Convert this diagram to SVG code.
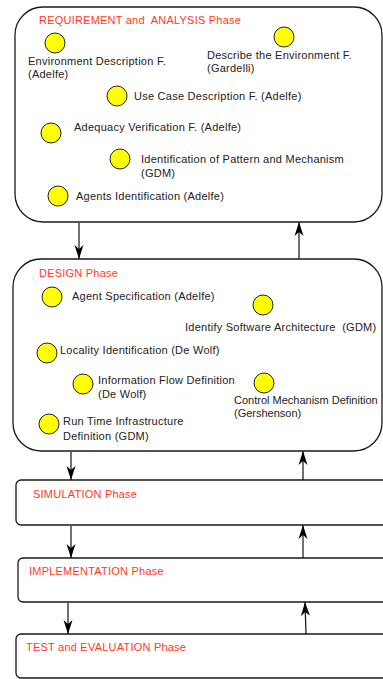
<svg xmlns="http://www.w3.org/2000/svg" width="383" height="679" viewBox="0 0 383 679">
<style>
.phase{fill:#fff;stroke:#1a1a1a;stroke-width:1.3}
.title{font-family:"Liberation Sans",Arial,sans-serif;font-size:11px;letter-spacing:0.22px;fill:#ff3b1e;white-space:pre}
.lbl{font-family:"Liberation Sans",Arial,sans-serif;font-size:11px;letter-spacing:0.25px;fill:#222;white-space:pre}
.tight{letter-spacing:0px}
.dot{fill:#ffff00;stroke:#222;stroke-width:1}
.conn line{stroke:#111;stroke-width:1.2;marker-end:url(#ah)}
</style>
<defs>
<marker id="ah" markerUnits="userSpaceOnUse" markerWidth="14" markerHeight="10" refX="14" refY="5" orient="auto">
<path d="M0,0.5 L14,5 L0,9.5 L4,5 z" fill="#000"/>
</marker>
</defs>
<rect width="383" height="679" fill="#fff"/>
<g id="req">
<rect class="phase" x="15" y="7" width="367" height="215" rx="28"/>
<text class="title" x="39" y="24">REQUIREMENT and  ANALYSIS Phase</text>
</g>
<g id="req-env"><circle class="dot" cx="55" cy="43" r="10"/><text class="lbl" x="28" y="65">Environment Description F.</text><text class="lbl" x="28" y="78">(Adelfe)</text></g>
<g id="req-desc"><circle class="dot" cx="284" cy="37" r="10"/><text class="lbl" x="207" y="59">Describe the Environment F.</text><text class="lbl" x="207" y="72">(Gardelli)</text></g>
<g id="req-usecase"><circle class="dot" cx="117" cy="96" r="10"/><text class="lbl" x="134" y="100">Use Case Description F. (Adelfe)</text></g>
<g id="req-adequacy"><circle class="dot" cx="51" cy="133" r="10"/><text class="lbl" x="74" y="131">Adequacy Verification F. (Adelfe)</text></g>
<g id="req-pattern"><circle class="dot" cx="120" cy="159" r="10"/><text class="lbl" x="141" y="163">Identification of Pattern and Mechanism</text><text class="lbl" x="141" y="177">(GDM)</text></g>
<g id="req-agents"><circle class="dot" cx="58" cy="196" r="10"/><text class="lbl" x="76" y="200">Agents Identification (Adelfe)</text></g>

<g id="design">
<rect class="phase" x="13" y="259" width="369" height="192" rx="28"/>
<text class="title" x="39" y="277">DESIGN Phase</text>
</g>
<g id="des-agentspec"><circle class="dot" cx="52" cy="297" r="10"/><text class="lbl" x="72" y="300">Agent Specification (Adelfe)</text></g>
<g id="des-arch"><circle class="dot" cx="263" cy="305" r="10"/><text class="lbl" x="185" y="331">Identify Software Architecture  (GDM)</text></g>
<g id="des-locality"><circle class="dot" cx="47" cy="353" r="10"/><text class="lbl" x="60" y="354">Locality Identification (De Wolf)</text></g>
<g id="des-infoflow"><circle class="dot" cx="83" cy="384" r="10"/><text class="lbl" x="98" y="384">Information Flow Definition</text><text class="lbl" x="98" y="398">(De Wolf)</text></g>
<g id="des-control"><circle class="dot" cx="264" cy="383" r="10"/><text class="lbl tight" x="234" y="404">Control Mechanism Definition</text><text class="lbl tight" x="234" y="417">(Gershenson)</text></g>
<g id="des-runtime"><circle class="dot" cx="49" cy="424" r="10"/><text class="lbl" x="63" y="425">Run Time Infrastructure</text><text class="lbl" x="63" y="440">Definition (GDM)</text></g>

<g id="simulation">
<rect class="phase" x="16" y="480" width="400" height="45" rx="5"/>
<text class="title" x="33" y="498">SIMULATION Phase</text>
</g>
<g id="implementation">
<rect class="phase" x="18" y="558" width="400" height="44" rx="5"/>
<text class="title" x="29" y="575">IMPLEMENTATION Phase</text>
</g>
<g id="test">
<rect class="phase" x="16" y="634" width="400" height="44" rx="5"/>
<text class="title" x="26" y="651">TEST and EVALUATION Phase</text>
</g>

<g id="connectors" class="conn">
<line x1="79" y1="223" x2="79" y2="259"/>
<line x1="299" y1="259" x2="299" y2="222"/>
<line x1="71" y1="452" x2="71" y2="480"/>
<line x1="303" y1="480" x2="303" y2="451"/>
<line x1="71" y1="526" x2="71" y2="558"/>
<line x1="303" y1="558" x2="303" y2="525"/>
<line x1="68" y1="603" x2="68" y2="634"/>
<line x1="306" y1="634" x2="305" y2="602"/>
</g>
</svg>
